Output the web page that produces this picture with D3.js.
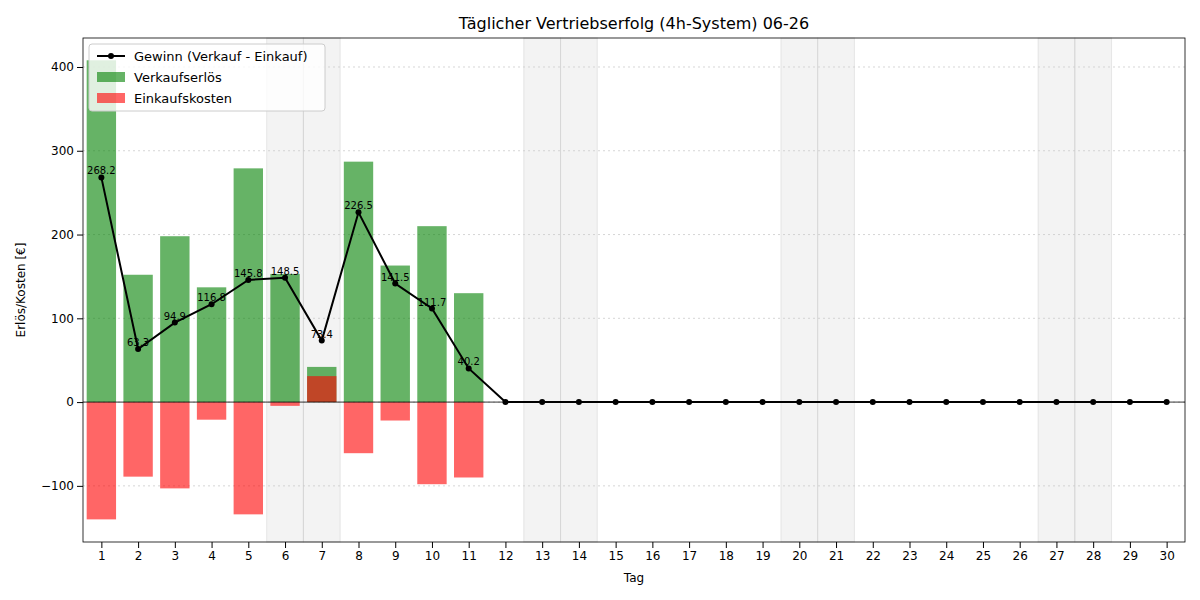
<!DOCTYPE html>
<html><head><meta charset="utf-8"><script src="https://cdn.jsdelivr.net/npm/d3@7"></script>
<style>body{margin:0;background:#fff}text{font-family:"DejaVu Sans",sans-serif}</style></head>
<body><svg id="c" width="1200" height="600"></svg>
<script>
const days = d3.range(1, 31);
const revenue = [408,152,198,137,279,153,42,287,163,210,130,0,0,0,0,0,0,0,0,0,0,0,0,0,0,0,0,0,0,0];
const costs = [140,89,103,21,134,4.5,-31,61,22,98,90,0,0,0,0,0,0,0,0,0,0,0,0,0,0,0,0,0,0,0];
const profit = [268.2,63.3,94.9,116.8,145.8,148.5,73.4,226.5,141.5,111.7,40.2,0,0,0,0,0,0,0,0,0,0,0,0,0,0,0,0,0,0,0];
const weekends = [6,7,13,14,20,21,27,28];
const yTicks = [-100,0,100,200,300,400];

const svg = d3.select("#c");
const L=83,R=1185,T=38,B=542;
const x = d3.scaleLinear().domain([0.5,30.5]).range([L,R]);
const y = d3.scaleLinear().domain([-167,434.6]).range([B,T]);
const bw = x(1.4)-x(0.6);

svg.append("g").selectAll("rect").data(weekends).join("rect")
 .attr("x",d=>x(d-0.5)).attr("width",x(1)-x(0)).attr("y",T).attr("height",B-T)
 .attr("fill","#bbb").attr("fill-opacity",0.18).attr("stroke","#bbb").attr("stroke-opacity",0.3);

svg.append("g").selectAll("line").data(yTicks).join("line")
 .attr("x1",L).attr("x2",R).attr("y1",d=>y(d)).attr("y2",d=>y(d))
 .attr("stroke","#ccc").attr("stroke-dasharray","2,3").attr("stroke-width",0.8);

svg.append("g").selectAll("rect").data(days).join("rect")
 .attr("x",d=>x(d)-bw/2).attr("width",bw)
 .attr("y",(d,i)=>y(Math.max(0,revenue[i]))).attr("height",(d,i)=>Math.abs(y(revenue[i])-y(0)))
 .attr("fill","green").attr("fill-opacity",0.6);
svg.append("g").selectAll("rect").data(days).join("rect")
 .attr("x",d=>x(d)-bw/2).attr("width",bw)
 .attr("y",(d,i)=>y(Math.max(0,-costs[i]))).attr("height",(d,i)=>Math.abs(y(-costs[i])-y(0)))
 .attr("fill","red").attr("fill-opacity",0.6);

svg.append("line").attr("x1",L).attr("x2",R).attr("y1",y(0)).attr("y2",y(0)).attr("stroke","#000").attr("stroke-width",0.8);

svg.append("path").datum(days).attr("fill","none").attr("stroke","#000").attr("stroke-width",2)
 .attr("d",d3.line().x(d=>x(d)).y((d,i)=>y(profit[i])));
svg.append("g").selectAll("circle").data(days).join("circle")
 .attr("cx",d=>x(d)).attr("cy",(d,i)=>y(profit[i])).attr("r",3).attr("fill","#000");
svg.append("g").selectAll("text").data(days.filter((d,i)=>profit[i]!==0)).join("text")
 .attr("x",d=>x(d)).attr("y",d=>y(profit[d-1])-3).attr("text-anchor","middle")
 .attr("font-size",10).text(d=>profit[d-1].toFixed(1));

svg.append("rect").attr("x",L).attr("y",T).attr("width",R-L).attr("height",B-T).attr("fill","none").attr("stroke","#000").attr("stroke-width",0.8);

const xa = svg.append("g").attr("transform",`translate(0,${B})`).call(d3.axisBottom(x).tickValues(days).tickFormat(d3.format("d")).tickSizeOuter(0));
const ya = svg.append("g").attr("transform",`translate(${L},0)`).call(d3.axisLeft(y).tickValues(yTicks).tickFormat(d=>d<0?"\u2212"+(-d):d).tickSizeOuter(0));
[xa,ya].forEach(a=>{a.select(".domain").remove();a.selectAll("text").attr("font-size",12).attr("fill","#000");a.selectAll("line").attr("stroke","#000");});

svg.append("text").attr("x",(L+R)/2).attr("y",29).attr("text-anchor","middle").attr("font-size",16).text("Täglicher Vertriebserfolg (4h-System) 06-26");
svg.append("text").attr("x",(L+R)/2).attr("y",582).attr("text-anchor","middle").attr("font-size",12).text("Tag");
svg.append("text").attr("transform",`translate(25,${(T+B)/2}) rotate(-90)`).attr("text-anchor","middle").attr("font-size",12).text("Erlös/Kosten [€]");

const lg = svg.append("g").attr("transform","translate(89,44)");
lg.append("rect").attr("width",236).attr("height",67).attr("rx",3).attr("fill","#fff").attr("fill-opacity",0.8).attr("stroke","#ccc");
lg.append("line").attr("x1",8).attr("x2",36).attr("y1",12).attr("y2",12).attr("stroke","#000").attr("stroke-width",2);
lg.append("circle").attr("cx",22).attr("cy",12).attr("r",3);
lg.append("rect").attr("x",8).attr("y",28).attr("width",28).attr("height",10).attr("fill","green").attr("fill-opacity",0.6);
lg.append("rect").attr("x",8).attr("y",49).attr("width",28).attr("height",10).attr("fill","red").attr("fill-opacity",0.6);
const labs=["Gewinn (Verkauf - Einkauf)","Verkaufserlös","Einkaufskosten"];
lg.selectAll("text.l").data(labs).join("text").attr("x",45).attr("y",(d,i)=>17+i*21).attr("font-size",13).text(d=>d);
</script></body></html>
